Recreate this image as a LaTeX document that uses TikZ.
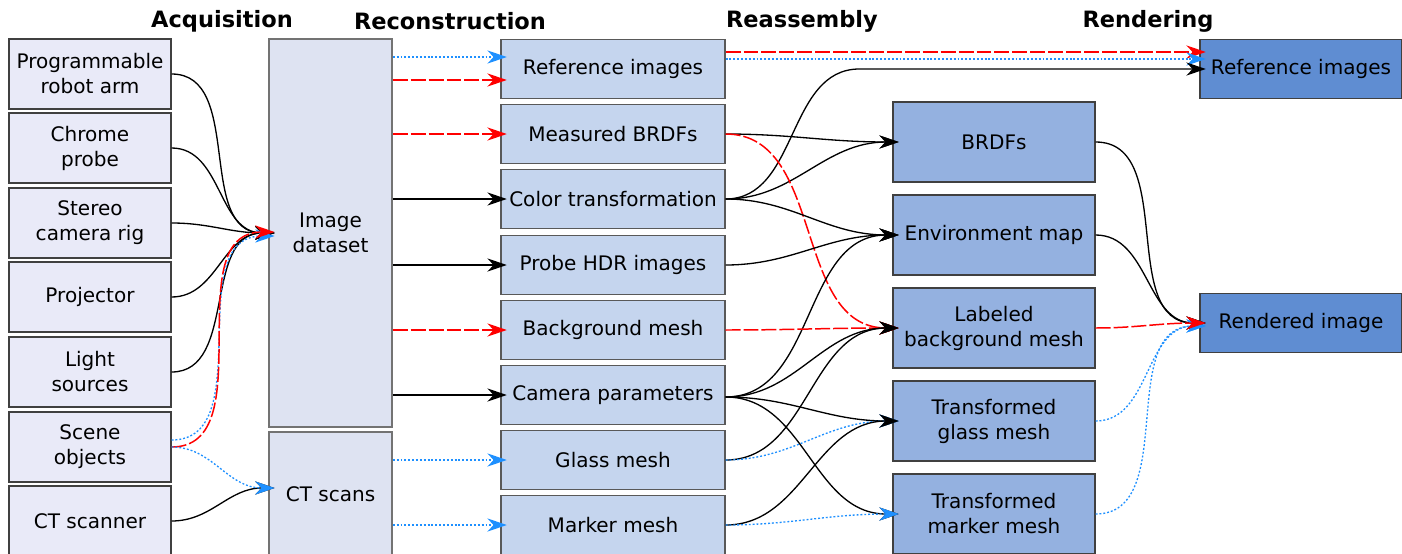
\documentclass[tikz,border=0pt]{standalone}
\usepackage{fontspec}
\setmainfont{DejaVu Sans}
\usepackage{tikz}
\usetikzlibrary{arrows.meta, calc}
\definecolor{acqcolor}{HTML}{E9EAF8}
\definecolor{datacolor}{HTML}{DEE3F2}
\definecolor{recocolor}{HTML}{C5D5EE}
\definecolor{asmcolor}{HTML}{94B1E0}
\definecolor{rendcolor}{HTML}{5F8DD2}
\definecolor{flowblue}{HTML}{1E90FF}

\begin{document}
\begin{tikzpicture}[
    x=0.02cm, y=-0.02cm,
    header/.style={font=\bfseries\fontsize{12.8}{14}\selectfont},
    box/.style={draw=black!75, line width=0.7pt, align=center, inner sep=0pt, font=\fontsize{11.4}{14.2}\selectfont},
    source/.style={box, fill=acqcolor, minimum width=3.24cm, minimum height=1.4cm},
    dataset/.style={box, draw=black!55, line width=0.9pt, fill=datacolor, minimum width=2.46cm},
    recon/.style={box, draw=black!65, fill=recocolor, minimum width=4.48cm, minimum height=1.18cm},
    asm/.style={box, fill=asmcolor, minimum width=4.04cm, minimum height=1.6cm},
    render/.style={box, fill=rendcolor, minimum width=4.04cm, minimum height=1.18cm},
    blk/.style={-{Stealth[length=11pt, width=7.5pt, inset=3.5pt]}, line width=0.75pt, shorten >=-3.6pt},
    redarr/.style={blk, color=red, line width=0.85pt, dash pattern=on 8.5pt off 1.7pt},
    bluearr/.style={blk, color=flowblue, dash pattern=on 1.1pt off 1.1pt},
    swing/.style={out=0, in=180}
]
    \useasboundingbox (0,0) rectangle (1402,554);

    % Headers
    \node[header] (hacq) at (222,21) {Acquisition};
    \node[header] (hrec) at (450,21) {Reconstruction};
    \node[header] (hasm) at (802,21) {Reassembly};
    \node[header] (hren) at (1148,21) {Rendering};

    % Acquisition
    \node[source] (robot) at (90,74) {Programmable\\robot arm};
    \node[source] (chrome) at (90,148) {Chrome\\probe};
    \node[source] (stereo) at (90,223) {Stereo\\camera rig};
    \node[source] (projector) at (90,297) {Projector};
    \node[source] (lights) at (90,372) {Light\\sources};
    \node[source] (scene) at (90,447) {Scene\\objects};
    \node[source] (scanner) at (90,521) {CT scanner};

    \node[dataset, minimum height=7.76cm] (dataset) at (330.5,233) {Image\\dataset};
    \node[dataset, minimum height=2.48cm] (ct) at (330.5,494) {CT scans};

    % Reconstruction
    \node[recon] (refA) at (613,69) {Reference images};
    \node[recon] (mbrdf) at (613,134) {Measured BRDFs};
    \node[recon] (ctrans) at (613,199) {Color transformation};
    \node[recon] (probe) at (613,265) {Probe HDR images};
    \node[recon] (bgmesh) at (613,330) {Background mesh};
    \node[recon] (campar) at (613,395) {Camera parameters};
    \node[recon] (glass) at (613,460) {Glass mesh};
    \node[recon] (marker) at (613,525) {Marker mesh};

    % Reassembly
    \node[asm] (brdf) at (994,142) {BRDFs};
    \node[asm] (envmap) at (994,235) {Environment map};
    \node[asm] (labbg) at (994,328) {Labeled\\background mesh};
    \node[asm] (tglass) at (994,421) {Transformed\\glass mesh};
    \node[asm] (tmarker) at (994,514) {Transformed\\marker mesh};

    % Rendering
    \node[render] (refB) at (1301,69) {Reference images};
    \node[render] (rimage) at (1301,323) {Rendered image};

    % acquisition -> datasets
    \draw[blk] (robot.east) to[swing] (dataset.west);
    \draw[blk] (chrome.east) to[swing] (dataset.west);
    \draw[blk] (stereo.east) to[swing] (dataset.west);
    \draw[blk] (projector.east) to[swing] (dataset.west);
    \draw[blk] (lights.east) to[swing] (dataset.west);
    \draw[bluearr] ($(scene.east)+(0,-7)$) to[swing] ($(dataset.west)+(0,3)$);
    \draw[redarr] (scene.east) to[swing] ($(dataset.west)+(0,-1)$);
    \draw[blk] (scanner.east) to[swing] ($(ct.west)+(0,-6)$);
    \draw[bluearr] (scene.east) to[swing] ($(ct.west)+(0,-6)$);

    % datasets -> reconstruction
    \draw[bluearr] ($(dataset.east |- refA.west)+(0,-12)$) -- ($(refA.west)+(0,-12)$);
    \draw[redarr] ($(dataset.east |- refA.west)+(0,11)$) -- ($(refA.west)+(0,11)$);
    \draw[redarr] (dataset.east |- mbrdf.west) -- (mbrdf.west);
    \draw[blk] (dataset.east |- ctrans.west) -- (ctrans.west);
    \draw[blk] (dataset.east |- probe.west) -- (probe.west);
    \draw[redarr] (dataset.east |- bgmesh.west) -- (bgmesh.west);
    \draw[blk] (dataset.east |- campar.west) -- (campar.west);
    \draw[bluearr] (ct.east |- glass.west) -- (glass.west);
    \draw[bluearr] (ct.east |- marker.west) -- (marker.west);

    % reconstruction -> reassembly / rendering
    \draw[redarr] ($(refA.east)+(0,-17)$) -- ($(refB.west)+(0,-17)$);
    \draw[bluearr] ($(refA.east)+(0,-10)$) -- ($(refB.west)+(0,-10)$);
    \draw[blk] (ctrans.east) to[swing] ($(refB.west)+(-340,0)$) -- (refB.west);
    \draw[blk] (mbrdf.east) to[swing] (brdf.west);
    \draw[blk] (ctrans.east) to[swing] (brdf.west);
    \draw[redarr] (mbrdf.east) to[swing] (labbg.west);
    \draw[blk] (ctrans.east) to[swing] (envmap.west);
    \draw[blk] (probe.east) to[swing] (envmap.west);
    \draw[blk] ($(campar.east)+(0,2)$) to[swing] (envmap.west);
    \draw[redarr] (bgmesh.east) to[swing] (labbg.west);
    \draw[blk] ($(campar.east)+(0,2)$) to[swing] (labbg.west);
    \draw[blk] (glass.east) to[swing] (labbg.west);
    \draw[blk] ($(campar.east)+(0,2)$) to[swing] (tglass.west);
    \draw[bluearr] (glass.east) to[swing] (tglass.west);
    \draw[blk] (marker.east) to[swing] (tglass.west);
    \draw[blk] ($(campar.east)+(0,2)$) to[swing] (tmarker.west);
    \draw[bluearr] (marker.east) to[swing] (tmarker.west);

    % reassembly -> rendered image
    \draw[blk] (brdf.east) to[swing] (rimage.west);
    \draw[blk] (envmap.east) to[swing] (rimage.west);
    \draw[bluearr] (tglass.east) to[swing] ($(rimage.west)+(0,3)$);
    \draw[bluearr] (tmarker.east) to[swing] ($(rimage.west)+(0,3)$);
    \draw[redarr] (labbg.east) to[swing] (rimage.west);
\end{tikzpicture}
\end{document}
